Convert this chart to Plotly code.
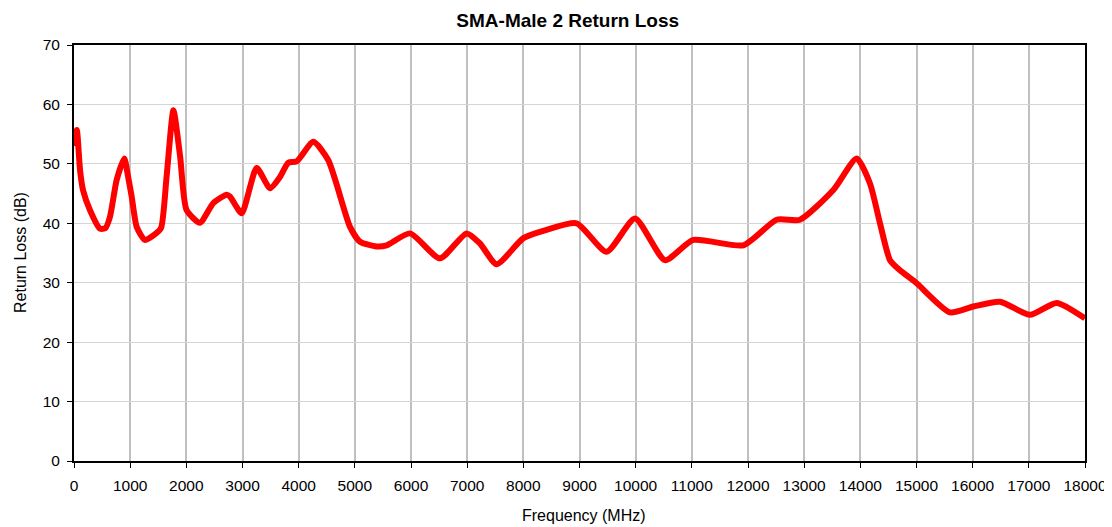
import plotly.graph_objects as go

freq_mhz = [0, 50, 107, 160, 285, 463, 560, 641, 760, 896, 960, 1027, 1116, 1264, 1450, 1550,
            1650, 1770, 1890, 2005, 2243, 2480, 2718, 2777, 2985, 3252, 3490, 3667, 3815, 3964,
            4261, 4528, 4914, 5092, 5389, 5567, 5982, 6516, 6991, 7228, 7525, 8000, 8415, 8949,
            9483, 9988, 10522, 11026, 11916, 12510, 12925, 13519, 13935, 14172, 14350, 14528,
            14706, 15003, 15595, 16011, 16486, 17020, 17495, 18000]
return_loss_db = [53.0, 55.7, 49.0, 45.6, 42.2, 39.1, 39.2, 41.1, 47.3, 50.9, 48.0, 44.5, 39.4, 37.2, 38.2, 39.2,
                  48.0, 59.0, 51.2, 42.2, 40.1, 43.4, 44.8, 44.5, 41.7, 49.3, 45.9, 47.8, 50.2, 50.4,
                  53.7, 50.6, 39.4, 36.9, 36.1, 36.3, 38.3, 34.1, 38.3, 36.6, 33.1, 37.5, 38.9, 40.0,
                  35.2, 40.8, 33.8, 37.2, 36.3, 40.6, 40.6, 45.6, 50.9, 46.7, 40.0, 33.8,
                  32.1, 29.9, 25.0, 26.0, 26.8, 24.6, 26.6, 24.0]

x_ticks = list(range(0, 18001, 1000))
y_ticks = list(range(0, 71, 10))

fig = go.Figure()
fig.add_trace(go.Scatter(
    x=freq_mhz, y=return_loss_db, mode="lines",
    line=dict(color="#FF0000", width=6, shape="spline", smoothing=0.6),
    showlegend=False,
))

font = dict(family="Liberation Sans, Arial, sans-serif", color="black")

fig.update_layout(
    width=1104, height=519,
    margin=dict(l=66, r=27, t=37, b=66, autoexpand=False),
    paper_bgcolor="white", plot_bgcolor="white",
    font=dict(size=15.5, **font),
    title=dict(text="<b>SMA-Male 2 Return Loss</b>", x=0.507, xanchor="center",
               y=1 - 12 / 519, yanchor="middle", font=dict(size=19, **font)),
    xaxis=dict(
        range=[0, 18000], tickvals=x_ticks, ticktext=[str(v) for v in x_ticks],
        showgrid=True, gridcolor="#C0C0C0", gridwidth=2,
        showline=True, linecolor="black", linewidth=2, mirror=True,
        ticks="outside", ticklen=5, tickcolor="black", zeroline=False,
        automargin=False, ticklabelstandoff=4, tickfont=dict(size=15.5, **font),
    ),
    yaxis=dict(
        range=[0, 70], tickvals=y_ticks,
        showgrid=True, gridcolor="#D4D4D4", gridwidth=1,
        showline=True, linecolor="black", linewidth=2, mirror=True,
        ticks="outside", ticklen=5, tickcolor="black", zeroline=False,
        automargin=False, ticklabelstandoff=4, tickfont=dict(size=15.5, **font),
    ),
    annotations=[
        dict(text="Frequency (MHz)", xref="paper", yref="paper", x=0.504, y=0,
             xanchor="center", yanchor="middle", yshift=-54, showarrow=False,
             font=dict(size=16, **font)),
        dict(text="Return Loss (dB)", xref="paper", yref="paper", x=0, y=0.5,
             xanchor="center", yanchor="middle", xshift=-54, textangle=-90,
             showarrow=False, font=dict(size=16, **font)),
    ],
)

fig.write_html("out.html")
